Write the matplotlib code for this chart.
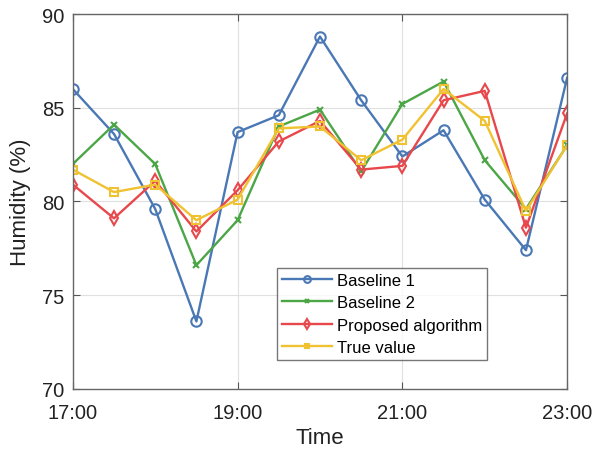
import matplotlib.pyplot as plt
import numpy as np

plt.rcParams['font.family'] = ['Liberation Sans', 'DejaVu Sans']

# half-hour steps from 17:00 to 23:00
hours = [17, 17.5, 18, 18.5, 19, 19.5, 20, 20.5, 21, 21.5, 22, 22.5, 23]
tick_pos = [17, 19, 21, 23]
tick_labels = ['17:00', '19:00', '21:00', '23:00']

baseline1 = [86.0, 83.6, 79.6, 73.6, 83.7, 84.6, 88.8, 85.4, 82.4, 83.8, 80.1, 77.4, 86.6]
baseline2 = [82.0, 84.1, 82.0, 76.6, 79.0, 84.0, 84.9, 81.6, 85.2, 86.4, 82.2, 79.6, 83.0]
proposed = [80.9, 79.1, 81.1, 78.4, 80.6, 83.2, 84.3, 81.7, 81.9, 85.4, 85.9, 78.6, 84.7]
true_val = [81.7, 80.5, 80.9, 79.0, 80.1, 83.9, 84.0, 82.2, 83.3, 86.0, 84.3, 79.5, 83.0]

fig = plt.figure(figsize=(5.92, 4.56), dpi=100)
ax = fig.add_axes([0.123, 0.145, 0.835, 0.822])

lw = 1.7
ax.plot(hours, baseline1, '-o', color='#4A78B5', lw=lw, ms=7.5, mfc='none', mew=1.5, label='Baseline 1')
ax.plot(hours, baseline2, '-x', color='#4CA646', lw=lw, ms=5, mew=1.5, label='Baseline 2')
ax.plot(hours, proposed, '-d', color='#E8474B', lw=lw, ms=7.5, mfc='none', mew=1.5, label='Proposed algorithm')
ax.plot(hours, true_val, '-s', color='#F0C232', lw=lw, ms=5.5, mfc='none', mew=1.5, label='True value')

ax.set_xlim(17, 23)
ax.set_ylim(70, 90)
ax.set_xticks(tick_pos)
ax.set_xticklabels(tick_labels)
ax.set_yticks([70, 75, 80, 85, 90])
ax.grid(True, color='#E0E0E0', lw=0.8)
ax.set_axisbelow(True)
ax.tick_params(direction='in', top=True, right=True, labelsize=14.5, colors='#555555',
               labelcolor='#222222', length=5)
ax.tick_params(axis='x', pad=10)
ax.tick_params(axis='y', pad=6)
for s in ax.spines.values():
    s.set_color('#666666')
    s.set_linewidth(1.0)

ax.set_xlabel('Time', fontsize=16, color='#222222', labelpad=4)
ax.set_ylabel('Humidity (%)', fontsize=16, color='#222222', labelpad=8)

leg = ax.legend(loc='lower left', bbox_to_anchor=(0.413, 0.077), fontsize=12,
                fancybox=False, edgecolor='#555555', handlelength=3.0,
                markerscale=0.65, borderpad=0.3, labelspacing=0.45, handletextpad=0.3,
                borderaxespad=0)
leg.get_frame().set_linewidth(1.0)

fig.savefig('out.png', dpi=100)
